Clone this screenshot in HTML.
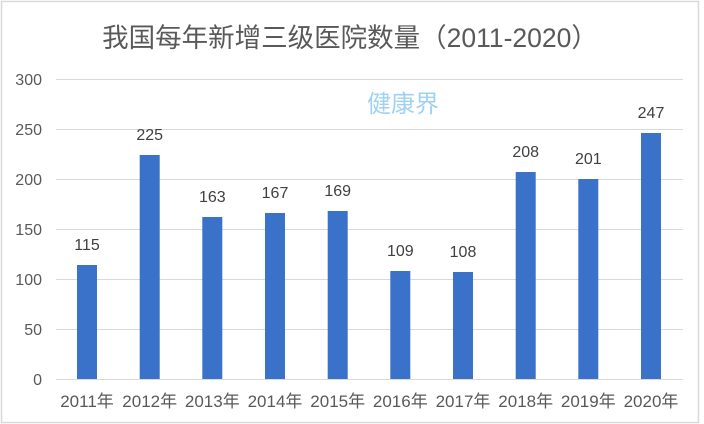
<!DOCTYPE html>
<html><head><meta charset="utf-8"><style>
body{margin:0;background:#fff;}
svg{display:block;font-family:"Liberation Sans","Noto Sans CJK SC",sans-serif;}
</style></head><body>
<svg width="704" height="424" viewBox="0 0 704 424">
<rect x="0" y="0" width="704" height="424" fill="#fff"/>
<rect x="1.5" y="1.5" width="697" height="421" fill="none" stroke="#d9d9d9" stroke-width="1.5"/>
<text x="350" y="47" text-anchor="middle" font-size="26.5" fill="#595959">我国每年新增三级医院数量（2011-2020）</text>
<g stroke="#d9d9d9" stroke-width="1">
<line x1="56" x2="683" y1="79.5" y2="79.5"/>
<line x1="56" x2="683" y1="129.5" y2="129.5"/>
<line x1="56" x2="683" y1="179.5" y2="179.5"/>
<line x1="56" x2="683" y1="229.5" y2="229.5"/>
<line x1="56" x2="683" y1="279.5" y2="279.5"/>
<line x1="56" x2="683" y1="329.5" y2="329.5"/>
<line x1="56" x2="683" y1="379.5" y2="379.5"/>
</g>
<g font-size="16" fill="#595959" text-anchor="end">
<text x="42" y="85">300</text><text x="42" y="135">250</text><text x="42" y="185">200</text>
<text x="42" y="235">150</text><text x="42" y="285">100</text><text x="42" y="335">50</text><text x="42" y="385">0</text>
</g>
<text x="403" y="112" text-anchor="middle" font-size="24" fill="#9fd2f2">健康界</text>
<g fill="#3a72c9">
<rect x="77" y="265" width="20" height="114"/>
<rect x="139.7" y="155" width="20" height="224"/>
<rect x="202.3" y="217" width="20" height="162"/>
<rect x="265" y="213" width="20" height="166"/>
<rect x="327.7" y="211" width="20" height="168"/>
<rect x="390.3" y="271" width="20" height="108"/>
<rect x="453" y="272" width="20" height="107"/>
<rect x="515.7" y="172" width="20" height="207"/>
<rect x="578.3" y="179" width="20" height="200"/>
<rect x="641" y="133" width="20" height="246"/>
</g>
<g font-size="16" fill="#404040" text-anchor="middle">
<text x="87" y="250">115</text><text x="149.7" y="140">225</text><text x="212.3" y="202">163</text>
<text x="275" y="198">167</text><text x="337.7" y="196">169</text><text x="400.3" y="256">109</text>
<text x="463" y="257">108</text><text x="525.7" y="157">208</text><text x="588.3" y="164">201</text>
<text x="651" y="118">247</text>
</g>
<g font-size="17" fill="#595959" text-anchor="middle">
<text x="87" y="407">2011年</text><text x="149.7" y="407">2012年</text><text x="212.3" y="407">2013年</text>
<text x="275" y="407">2014年</text><text x="337.7" y="407">2015年</text><text x="400.3" y="407">2016年</text>
<text x="463" y="407">2017年</text><text x="525.7" y="407">2018年</text><text x="588.3" y="407">2019年</text>
<text x="651" y="407">2020年</text>
</g>
</svg>
</body></html>
